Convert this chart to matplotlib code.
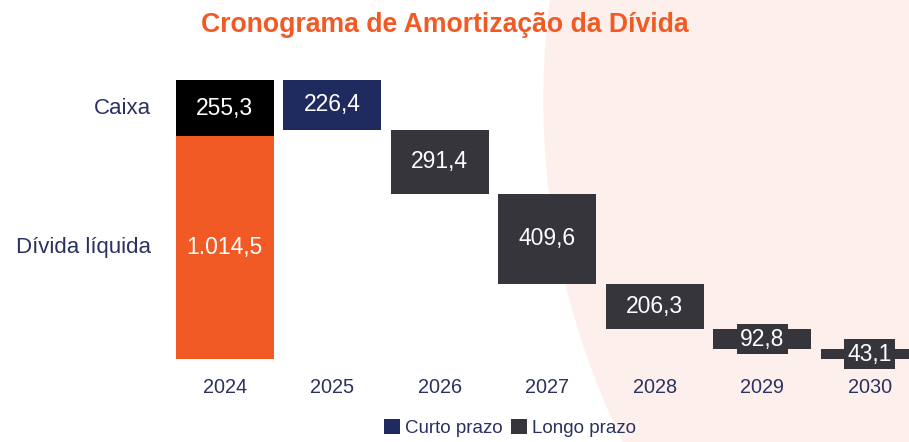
import matplotlib
matplotlib.use("Agg")
import matplotlib.pyplot as plt
from matplotlib.patches import Circle, Patch

# data
years = ["2024", "2025", "2026", "2027", "2028", "2029", "2030"]
divida_liquida = 1014.5
caixa = 255.3
amortizacao = [226.4, 291.4, 409.6, 206.3, 92.8, 43.1]   # 2025..2030
tipo = ["curto", "longo", "longo", "longo", "longo", "longo"]
labels_amort = ["226,4", "291,4", "409,6", "206,3", "92,8", "43,1"]

orange = "#f15a24"
navy = "#1f2a5e"
dark = "#36353b"
text_navy = "#2b3160"

plt.rcParams["font.family"] = ["Liberation Sans", "DejaVu Sans"]

fig = plt.figure(figsize=(9.09, 4.42), dpi=100)

# background circle (pixel coords)
bg = fig.add_axes([0, 0, 1, 1])
bg.set_xlim(0, 909)
bg.set_ylim(442, 0)
bg.axis("off")
bg.add_patch(Circle((1320, 100), 776, color="#fdf0ec", zorder=0))

ax = fig.add_axes([171 / 909, 83 / 442, 752.5 / 909, 279 / 442])
ax.patch.set_alpha(0)
total = divida_liquida + caixa
ax.set_xlim(-0.5, 6.5)
ax.set_ylim(0, total)
w = 0.91
vfs = 16.5

# 2024 stacked bar
ax.bar(0, divida_liquida, width=w, color=orange, zorder=3)
ax.bar(0, caixa, bottom=divida_liquida, width=w, color="black", zorder=3)
ax.text(0, divida_liquida / 2, "1.014,5", color="white", fontsize=vfs, ha="center", va="center", zorder=4)
ax.text(0, divida_liquida + caixa / 2, "255,3", color="white", fontsize=vfs, ha="center", va="center", zorder=4)

# row labels on the left
ax.annotate("Caixa", (-0.5, divida_liquida + caixa / 2), xytext=(-14.5, 0), textcoords="offset points",
            ha="right", va="center", fontsize=16, color=text_navy, annotation_clip=False)
ax.annotate("Dívida líquida", (-0.5, divida_liquida / 2), xytext=(-14.5, 0), textcoords="offset points",
            ha="right", va="center", fontsize=16, color=text_navy, annotation_clip=False)

# waterfall bars
top = total
for i, (v, t, lab) in enumerate(zip(amortizacao, tipo, labels_amort)):
    c = navy if t == "curto" else dark
    ax.bar(i + 1, v, bottom=top - v, width=w, color=c, zorder=3, clip_on=False)
    ax.text(i + 1, top - v / 2, lab, color="white", fontsize=vfs, ha="center", va="center", zorder=4,
            bbox=dict(boxstyle="square,pad=0.15", facecolor=c, edgecolor="none"))
    top -= v

ax.axhline(0, color="white", lw=1, zorder=2)

for s in ax.spines.values():
    s.set_visible(False)
ax.set_yticks([])
ax.set_xticks(range(len(years)))
ax.set_xticklabels(years, fontsize=14.3, color=text_navy)
ax.tick_params(axis="x", length=0, pad=14)

fig.text(445 / 909, 1 - 25 / 442, "Cronograma de Amortização da Dívida",
         fontsize=19.2, fontweight="bold", color=orange, ha="center", va="center")

handles = [Patch(facecolor=navy, label="Curto prazo"), Patch(facecolor=dark, label="Longo prazo")]
fig.legend(handles=handles, loc="center", bbox_to_anchor=(510 / 909, 1 - 428 / 442), ncol=2,
           frameon=False, fontsize=13.5, handlelength=0.85, handleheight=0.85,
           handletextpad=0.3, columnspacing=0.4, labelcolor=text_navy)

fig.savefig("out.png", dpi=100)
